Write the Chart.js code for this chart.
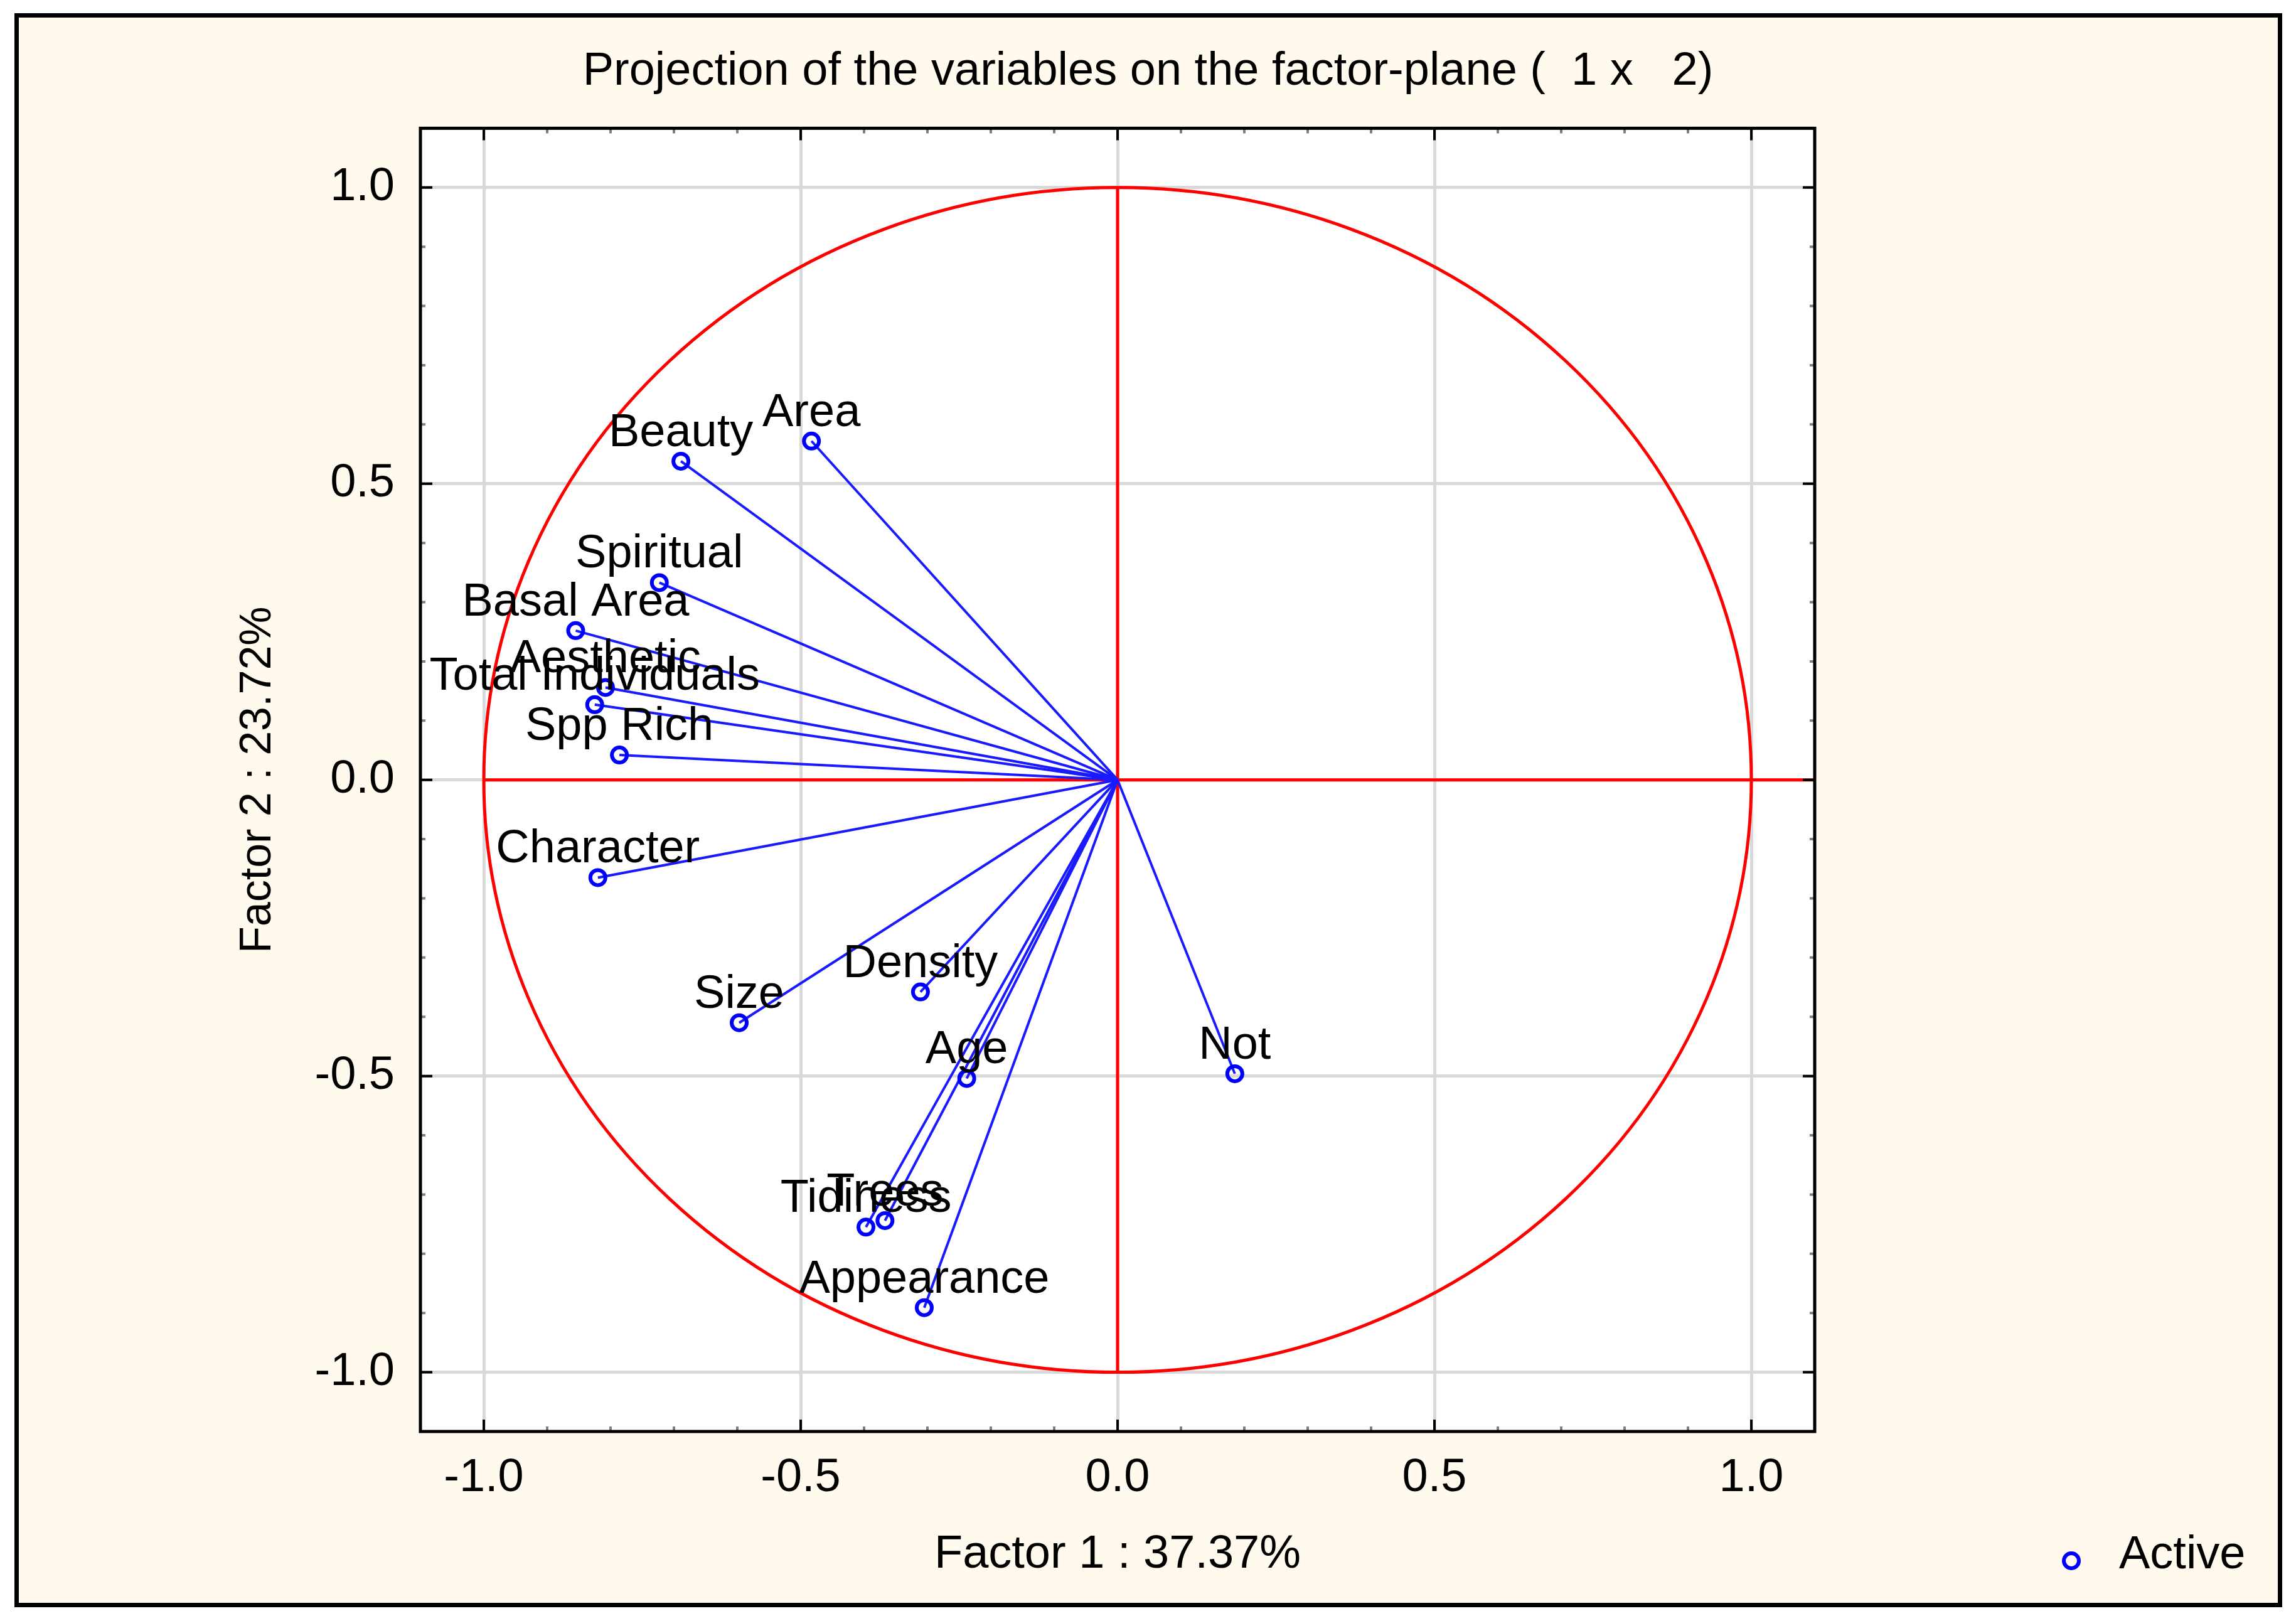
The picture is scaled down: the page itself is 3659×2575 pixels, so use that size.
<!DOCTYPE html>
<html><head><meta charset="utf-8">
<script src="https://cdn.jsdelivr.net/npm/chart.js@4.4.1/dist/chart.umd.min.js"></script>
<style>html,body{margin:0;padding:0;background:#fff;overflow:hidden;} canvas{display:block;}</style>
</head><body>
<canvas id="c" width="3659" height="2575"></canvas>
<script>
// ---- data ----
const variables = ["Area","Beauty","Spiritual","Basal Area","Aesthetic","Total Individuals","Spp Rich","Character","Size","Density","Age","Not","Tidiness","Trees","Appearance"];
const factor1 = [-0.483,-0.689,-0.723,-0.855,-0.808,-0.825,-0.786,-0.820,-0.597,-0.311,-0.238,0.185,-0.397,-0.367,-0.305];
const factor2 = [0.572,0.538,0.333,0.252,0.156,0.127,0.042,-0.165,-0.410,-0.358,-0.504,-0.496,-0.755,-0.744,-0.891];
const majorTicks = [-1.0,-0.5,0.0,0.5,1.0];
const minorTicks = [-0.9,-0.8,-0.7,-0.6,-0.4,-0.3,-0.2,-0.1,0.1,0.2,0.3,0.4,0.6,0.7,0.8,0.9];
const chartTitle = "Projection of the variables on the factor-plane (  1 x   2)";
const xTitle = "Factor 1 : 37.37%";
const yTitle = "Factor 2 : 23.72%";
const seriesName = "Active";

const FONT = "'Liberation Sans', Arial, sans-serif";
const BLUE = '#0000ff';
const RED = '#ff0000';

const datasets = [{
  label: seriesName,
  type: 'scatter',
  data: variables.map((v,i)=>({x:factor1[i], y:factor2[i]})),
  pointRadius: 12, pointBorderWidth: 6, pointBorderColor: BLUE,
  pointBackgroundColor: 'rgba(0,0,0,0)', showLine:false,
  xAxisID:'x', yAxisID:'y', clip:false
}];
variables.forEach((v,i)=>{
  datasets.push({
    label: v, type:'line',
    data: [{x:0,y:0},{x:factor1[i],y:factor2[i]}],
    borderColor: '#1a1aff', borderWidth: 4, pointRadius: 0, fill:false, tension:0,
    xAxisID:'x', yAxisID:'y'
  });
});

const bgPlugin = {
  id:'bg',
  beforeDraw(chart){
    const ctx = chart.ctx, a = chart.chartArea;
    ctx.save();
    ctx.fillStyle = '#ffffff'; ctx.fillRect(0,0,chart.width,chart.height);
    ctx.fillStyle = '#fff9ee'; ctx.fillRect(26,24,3608,2534);
    ctx.strokeStyle = '#000'; ctx.lineWidth = 7; ctx.strokeRect(26.5,24.5,3607,2533);
    ctx.fillStyle = '#ffffff'; ctx.fillRect(a.left,a.top,a.right-a.left,a.bottom-a.top);
    ctx.restore();
  }
};

const refPlugin = {
  id:'ref',
  beforeDatasetsDraw(chart){
    const ctx = chart.ctx, a = chart.chartArea, xs = chart.scales.x, ys = chart.scales.y;
    const cx = xs.getPixelForValue(0), cy = ys.getPixelForValue(0);
    const rx = xs.getPixelForValue(1) - cx, ry = cy - ys.getPixelForValue(1);
    ctx.save();
    ctx.beginPath(); ctx.rect(a.left,a.top,a.right-a.left,a.bottom-a.top); ctx.clip();
    ctx.strokeStyle = RED; ctx.lineWidth = 5;
    ctx.beginPath(); ctx.ellipse(cx,cy,rx,ry,0,0,Math.PI*2); ctx.stroke();
    ctx.beginPath(); ctx.moveTo(xs.getPixelForValue(-1),cy); ctx.lineTo(a.right,cy); ctx.stroke();
    ctx.beginPath(); ctx.moveTo(cx,ys.getPixelForValue(1)); ctx.lineTo(cx,ys.getPixelForValue(-1)); ctx.stroke();
    ctx.restore();
  }
};

const labelPlugin = {
  id:'labels',
  afterDatasetsDraw(chart){
    const ctx = chart.ctx, meta = chart.getDatasetMeta(0);
    ctx.save();
    ctx.font = '74px ' + FONT; ctx.fillStyle = '#000';
    ctx.textAlign = 'center'; ctx.textBaseline = 'alphabetic';
    meta.data.forEach((el,i)=>{ ctx.fillText(variables[i], el.x, el.y - 24); });
    ctx.restore();
  }
};

const framePlugin = {
  id:'frame',
  afterDraw(chart){
    const ctx = chart.ctx, a = chart.chartArea, xs = chart.scales.x, ys = chart.scales.y;
    ctx.save();
    const tick = (vals, len, color) => {
      ctx.strokeStyle = color; ctx.lineWidth = 4; ctx.beginPath();
      vals.forEach(v=>{
        const px = xs.getPixelForValue(v), py = ys.getPixelForValue(v);
        ctx.moveTo(px,a.bottom); ctx.lineTo(px,a.bottom-len);
        ctx.moveTo(px,a.top); ctx.lineTo(px,a.top+len);
        ctx.moveTo(a.left,py); ctx.lineTo(a.left+len,py);
        ctx.moveTo(a.right,py); ctx.lineTo(a.right-len,py);
      });
      ctx.stroke();
    };
    tick(minorTicks, 8, '#7f7f7f');
    tick(majorTicks, 19, '#000');
    ctx.strokeStyle = '#000'; ctx.lineWidth = 5;
    ctx.strokeRect(a.left,a.top,a.right-a.left,a.bottom-a.top);
    // legend
    const ds = chart.data.datasets[0];
    ctx.strokeStyle = ds.pointBorderColor; ctx.lineWidth = ds.pointBorderWidth;
    ctx.beginPath(); ctx.arc(3301,2487,12,0,Math.PI*2); ctx.stroke();
    ctx.fillStyle = '#000'; ctx.font = '74px ' + FONT;
    ctx.textAlign = 'left'; ctx.textBaseline = 'middle';
    ctx.fillText(ds.label, 3377, 2479);
    ctx.restore();
  }
};

const setTicks = s => { s.ticks = majorTicks.map(v=>({value:v})); };

new Chart(document.getElementById('c'), {
  type:'scatter',
  data:{datasets},
  options:{
    responsive:false, devicePixelRatio:1, animation:false, events:[],
    layout:{padding:{left:30,right:30,top:20,bottom:30}},
    plugins:{
      legend:{display:false}, tooltip:{enabled:false},
      title:{display:true, text:chartTitle, color:'#000',
        font:{family:FONT,size:74,weight:'normal'}, padding:{top:50,bottom:45.6}}
    },
    scales:{
      x:{type:'linear', position:'bottom', min:-1.1, max:1.1,
        afterBuildTicks:setTicks,
        ticks:{callback:v=>Number(v).toFixed(1), color:'#000', font:{family:FONT,size:74}, padding:30, maxRotation:0, autoSkip:false},
        grid:{color:'#d9d9d9', lineWidth:5, drawTicks:false},
        border:{display:false},
        title:{display:true, text:xTitle, color:'#000', font:{family:FONT,size:74}, padding:{top:0,bottom:22.6}},
        afterFit:s=>{ s.height = 264; }
      },
      y:{type:'linear', position:'left', min:-1.1, max:1.1,
        afterBuildTicks:setTicks,
        ticks:{callback:v=>Number(v).toFixed(1), color:'#000', font:{family:FONT,size:74}, padding:41, autoSkip:false},
        grid:{color:'#d9d9d9', lineWidth:5, drawTicks:false},
        border:{display:false},
        title:{display:true, text:yTitle, color:'#000', font:{family:FONT,size:70}, padding:{top:340,bottom:0}},
        afterFit:s=>{ s.width = 640; }
      },
      y2:{type:'linear', position:'right', min:-1.1, max:1.1, display:true,
        grid:{display:false}, ticks:{display:false}, border:{display:false},
        afterFit:s=>{ s.width = 737; }
      }
    }
  },
  plugins:[bgPlugin, refPlugin, labelPlugin, framePlugin]
});
</script>
</body></html>
